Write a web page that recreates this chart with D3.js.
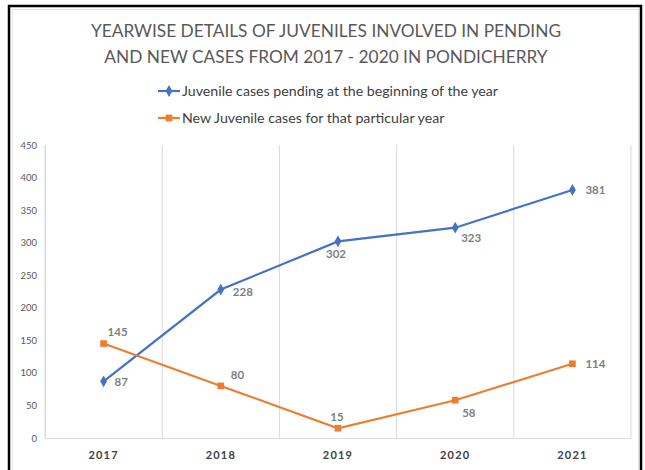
<!DOCTYPE html>
<html>
<head>
<meta charset="utf-8">
<script src="https://cdn.jsdelivr.net/npm/d3@7"></script>
<style>
  html, body { margin: 0; padding: 0; background: #fff; }
  svg { display: block; }
  text { font-family: Lato, "Open Sans", sans-serif; }
</style>
</head>
<body>
<svg id="chart" width="645" height="470"></svg>
<script>
// Years on the category axis
const years = ["2017", "2018", "2019", "2020", "2021"];
// Juvenile cases pending at the beginning of each year
const pending = [87, 228, 302, 323, 381];
// New juvenile cases registered in each year
const newCases = [145, 80, 15, 58, 114];
// Value axis ticks
const yTicks = [0, 50, 100, 150, 200, 250, 300, 350, 400, 450];

const titleLines = [
  "YEARWISE DETAILS OF JUVENILES INVOLVED IN PENDING",
  "AND NEW CASES FROM 2017 - 2020 IN PONDICHERRY"
];
const seriesNames = [
  "Juvenile cases pending at the beginning of the year",
  "New Juvenile cases for that particular year"
];

const blue = "#4472C4", orange = "#ED7D31";
const svg = d3.select("#chart");

// outer frame
svg.append("rect").attr("x", 9).attr("y", 6).attr("width", 632).attr("height", 480)
  .attr("fill", "none").attr("stroke", "#000").attr("stroke-width", 2.5);
svg.append("rect").attr("x", 12.5).attr("y", 9.5).attr("width", 626).attr("height", 470)
  .attr("fill", "none").attr("stroke", "#e2e2e2").attr("stroke-width", 1);

const plot = { left: 45, right: 631, top: 145, bottom: 438 };

const x = d3.scaleBand().domain(years).range([plot.left, plot.right]);
const y = d3.scaleLinear().domain([0, 450]).range([plot.bottom, plot.top]);

// title
svg.append("g").selectAll("text").data(titleLines).join("text")
  .attr("x", 326).attr("y", (d, i) => 37 + i * 26)
  .attr("text-anchor", "middle")
  .attr("font-size", 17.3).attr("fill", "#595959")
  .text(d => d);

// vertical category separators
svg.append("g").selectAll("line").data(d3.range(years.length + 1)).join("line")
  .attr("x1", i => plot.left + i * x.step()).attr("x2", i => plot.left + i * x.step())
  .attr("y1", plot.top).attr("y2", plot.bottom)
  .attr("stroke", "#d9d9d9").attr("stroke-width", 1);

// y axis
const yAxis = svg.append("g").attr("transform", `translate(${plot.left},0)`)
  .call(d3.axisLeft(y).tickValues(yTicks).tickSize(0).tickPadding(8));
yAxis.select(".domain").attr("stroke", "#d9d9d9");
yAxis.selectAll("text").attr("font-size", 9.5).attr("fill", "#595959")
  .attr("font-family", "Lato, sans-serif");

// x axis
const xAxis = svg.append("g").attr("transform", `translate(0,${plot.bottom})`)
  .call(d3.axisBottom(x).tickSize(0).tickPadding(13));
xAxis.select(".domain").attr("stroke", "#d9d9d9");
xAxis.selectAll("text").attr("font-size", 11).attr("font-weight", "bold")
  .attr("fill", "#404040").attr("letter-spacing", 1.2)
  .attr("font-family", "Lato, sans-serif");

const cx = d => x(d) + x.bandwidth() / 2;
const line = d3.line().x(d => cx(d.year)).y(d => y(d.v));

const series = [
  { name: seriesNames[0], color: blue, values: pending, shape: d3.symbolDiamond,
    labelOff: [[11, 5], [12, 6], [-2, 17], [6, 14], [13, 4]], anchor: ["start","start","middle","start","start"] },
  { name: seriesNames[1], color: orange, values: newCases, shape: d3.symbolSquare,
    labelOff: [[4, -8], [10, -7], [-1, -7], [7, 17], [13, 4]], anchor: ["start","start","middle","start","start"] }
];

series.forEach(s => {
  const pts = years.map((yr, i) => ({ year: yr, v: s.values[i] }));
  svg.append("path").datum(pts).attr("d", line)
    .attr("fill", "none").attr("stroke", s.color).attr("stroke-width", 2.2);
  svg.append("g").selectAll("path").data(pts).join("path")
    .attr("d", d3.symbol().type(s.shape).size(s.shape === d3.symbolSquare ? 45 : 40))
    .attr("transform", d => `translate(${cx(d.year)},${y(d.v)})`)
    .attr("fill", s.color);
  svg.append("g").selectAll("text").data(pts).join("text")
    .attr("x", (d, i) => cx(d.year) + s.labelOff[i][0])
    .attr("y", (d, i) => y(d.v) + s.labelOff[i][1])
    .attr("text-anchor", (d, i) => s.anchor[i])
    .attr("font-size", 11.5).attr("font-weight", "bold").attr("fill", "#7f7f7f")
    .text(d => d.v);
});

// legend
const legend = svg.append("g");
series.forEach((s, i) => {
  const ly = 91 + i * 27;
  legend.append("line").attr("x1", 158).attr("x2", 180).attr("y1", ly).attr("y2", ly)
    .attr("stroke", s.color).attr("stroke-width", 2.2);
  legend.append("path")
    .attr("d", d3.symbol().type(s.shape).size(s.shape === d3.symbolSquare ? 45 : 40))
    .attr("transform", `translate(169,${ly})`).attr("fill", s.color);
  legend.append("text").attr("x", 182).attr("y", ly + 4.5)
    .attr("font-size", 14.2).attr("fill", "#404040").text(s.name);
});
</script>
</body>
</html>
